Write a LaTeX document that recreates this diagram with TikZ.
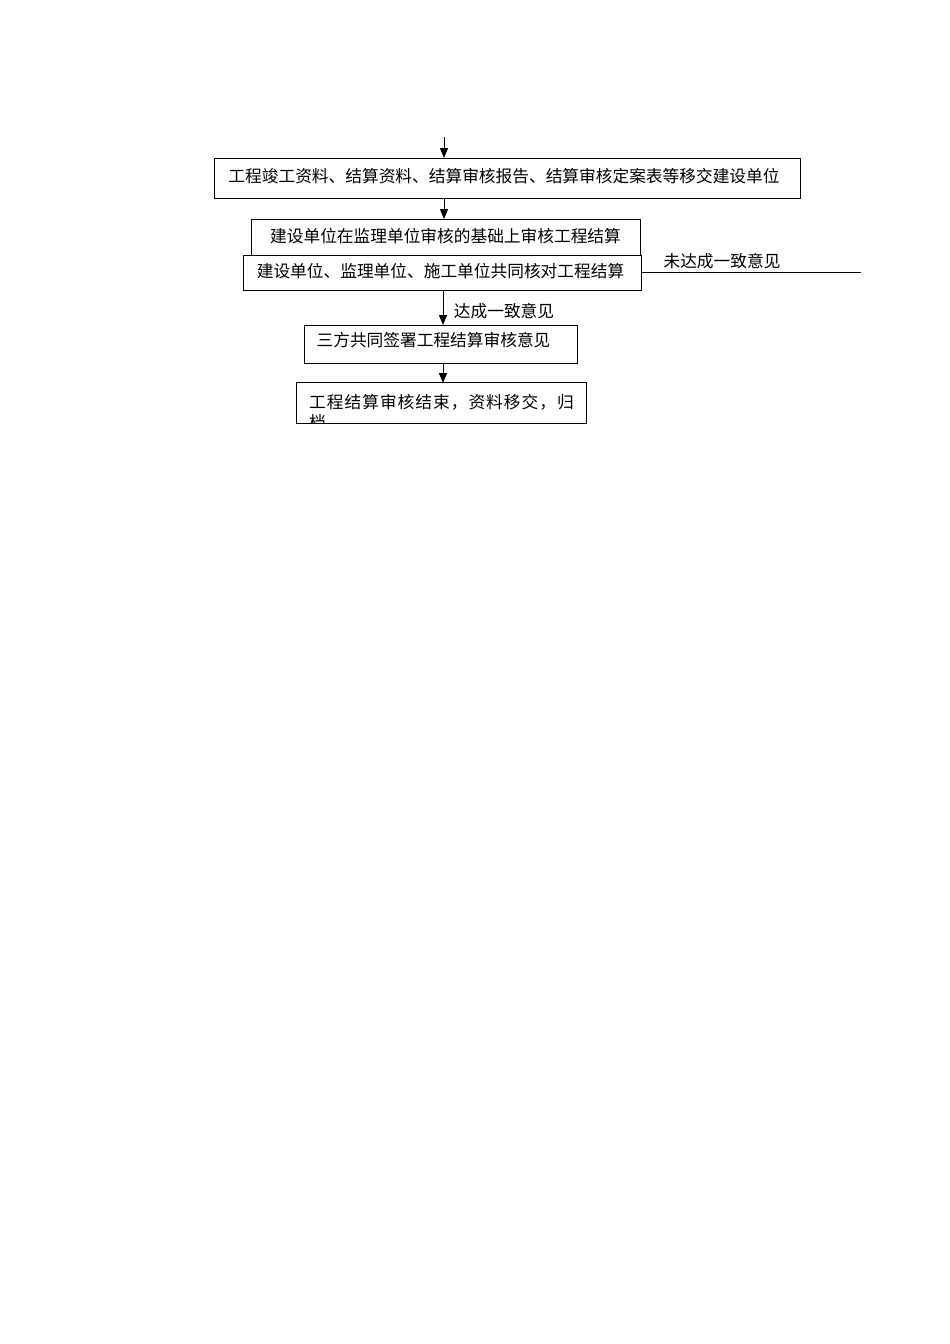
\documentclass[tikz,border=0pt]{standalone}
\usepackage{fontspec}
\setmainfont{Noto Sans CJK SC}
\usetikzlibrary{arrows.meta}
\begin{document}
\begin{tikzpicture}[x=1pt,y=-1pt,
  box/.style={draw, line width=1pt, fill=white, inner sep=0pt},
  txt/.style={inner sep=0pt, font=\fontsize{16.7}{20}\selectfont},
  arr/.style={line width=1pt, -{Triangle[length=10pt,width=8pt]}},
  ln/.style={line width=1pt}]
\useasboundingbox (0,0) rectangle (950,1344);
\fill[white] (0,0) rectangle (950,1344);
% boxes
\node[box, minimum width=586pt, minimum height=40pt] (b1) at (507,178.5) {};
\node[txt] (t1) at (504,176) {工程竣工资料、结算资料、结算审核报告、结算审核定案表等移交建设单位};
\node[box, minimum width=389pt, minimum height=38pt] (b2) at (445.5,238) {};
\node[txt] (t2) at (445.5,236) {建设单位在监理单位审核的基础上审核工程结算};
\node[box, minimum width=398pt, minimum height=35pt] (b3) at (442,272.5) {};
\node[txt] (t3) at (440.5,271) {建设单位、监理单位、施工单位共同核对工程结算};
\node[box, minimum width=273pt, minimum height=38pt] (b4) at (440.5,344) {};
\node[txt] (t4) at (433.5,340) {三方共同签署工程结算审核意见};
\node[fill=white, inner sep=0pt, minimum width=289pt, minimum height=40pt] (b5) at (441.5,403) {};
\begin{scope}
\clip (b5.north west) rectangle (b5.south east);
\node[txt, anchor=west, font=\fontsize{16.7}{20}\selectfont\addfontfeature{LetterSpace=6}] (t5) at (309,402) {工程结算审核结束，资料移交，归};
\node[txt, anchor=north west] (t5b) at (309,414) {档};
\end{scope}
\draw[line width=1pt] (b5.north west) rectangle (b5.south east);
% connectors
\coordinate (start) at (444,137);
\coordinate (end) at (861,272);
\draw[arr] (start) -- (start |- b1.north);
\draw[arr] (444,198.5) -- (444,219);
\draw[arr] (443,290) -- (443,325);
\draw[arr] (443,363) -- (443,383);
\draw[ln] (b3.east |- end) -- (end);
% labels
\node[txt] (l1) at (722,261) {未达成一致意见};
\node[txt] (l2) at (504,311) {达成一致意见};
\end{tikzpicture}
\end{document}
